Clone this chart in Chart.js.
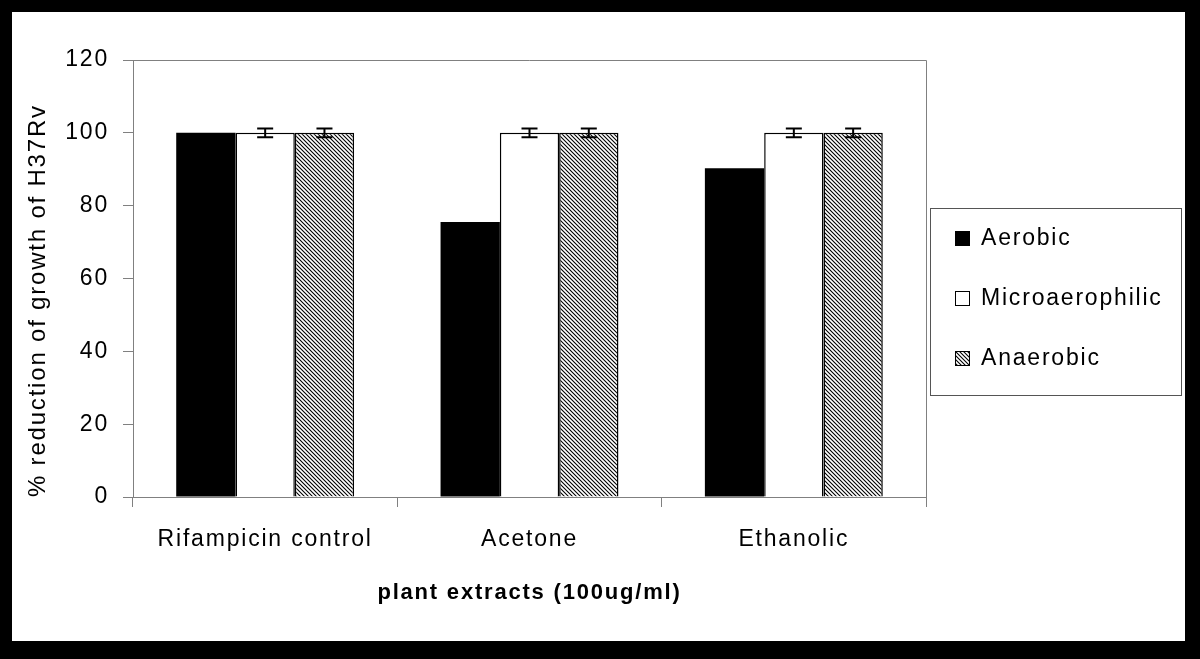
<!DOCTYPE html>
<html>
<head>
<meta charset="utf-8">
<script src="https://cdn.jsdelivr.net/npm/chart.js@4.4.0/dist/chart.umd.min.js"></script>
<style>
    html, body { margin: 0; background: #000; }
    #wrap { position: absolute; left: 12px; top: 12px; width: 1173px; height: 629px; background: #fff; }
</style>
</head>
<body>
<div id="wrap"><canvas id="chart"></canvas></div>
<script>
    // data
    const categories = ['Rifampicin control', 'Acetone', 'Ethanolic'];
    const seriesNames = ['Aerobic', 'Microaerophilic', 'Anaerobic'];
    const aerobic = [100, 75.5, 90.3];
    const microaerophilic = [100, 100, 100];
    const anaerobic = [100, 100, 100];
    const aerobicErr = [0, 0, 0];
    const microErr = [1.2, 1.2, 1.2];
    const anaerobicErr = [1.2, 1.2, 1.2];
    const yTicks = [0, 20, 40, 60, 80, 100, 120];

    const FONT = '"Liberation Sans", Arial, sans-serif';

    // diagonal hatch for the anaerobic bars
    function makeHatch() {
        const c = document.createElement('canvas');
        c.width = 4; c.height = 4;
        const g = c.getContext('2d');
        g.fillStyle = '#fff';
        g.fillRect(0, 0, 4, 4);
        g.strokeStyle = '#000';
        g.lineWidth = 1.1;
        g.beginPath();
        g.moveTo(-1, -1); g.lineTo(5, 5);
        g.moveTo(-1, 3); g.lineTo(1, 5);
        g.moveTo(3, -1); g.lineTo(5, 1);
        g.stroke();
        return g.createPattern(c, 'repeat');
    }
    const hatch = makeHatch();

    // slightly spaced lettering like the original
    const spacing = {
        id: 'spacing',
        beforeDraw(chart) { chart.ctx.letterSpacing = '1.8px'; }
    };

    // frame around the plot area
    const frame = {
        id: 'frame',
        afterDraw(chart) {
            const a = chart.chartArea, ctx = chart.ctx;
            ctx.save();
            ctx.strokeStyle = '#808080';
            ctx.lineWidth = 1;
            ctx.beginPath();
            ctx.moveTo(a.left, a.top + 0.5);
            ctx.lineTo(a.right + 0.5, a.top + 0.5);
            ctx.lineTo(a.right + 0.5, a.bottom);
            ctx.stroke();
            ctx.restore();
        }
    };

    // error bars
    const errorBars = {
        id: 'errorBars',
        afterDatasetsDraw(chart) {
            const ctx = chart.ctx, y = chart.scales.y;
            ctx.save();
            ctx.strokeStyle = '#000';
            ctx.lineWidth = 2;
            chart.data.datasets.forEach((ds, i) => {
                chart.getDatasetMeta(i).data.forEach((bar, j) => {
                    const e = ds.errors[j];
                    if (!e) return;
                    const t = y.getPixelForValue(ds.data[j] + e);
                    const b = y.getPixelForValue(ds.data[j] - e);
                    ctx.beginPath();
                    ctx.moveTo(bar.x, t); ctx.lineTo(bar.x, b);
                    ctx.moveTo(bar.x - 8, t); ctx.lineTo(bar.x + 8, t);
                    ctx.moveTo(bar.x - 8, b); ctx.lineTo(bar.x + 8, b);
                    ctx.stroke();
                });
            });
            ctx.restore();
        }
    };

    // boxed legend on the right
    const boxLegend = {
        id: 'boxLegend',
        afterDraw(chart) {
            const ctx = chart.ctx, a = chart.chartArea;
            const x = a.right + 4, top = 196, w = 251, h = 187;
            ctx.save();
            ctx.strokeStyle = '#555';
            ctx.lineWidth = 1;
            ctx.strokeRect(x + 0.5, top + 0.5, w, h);
            ctx.font = '23px ' + FONT;
            ctx.textBaseline = 'middle';
            chart.data.datasets.forEach((ds, i) => {
                const cy = top + 30 + i * 60;
                ctx.fillStyle = ds.backgroundColor;
                ctx.fillRect(x + 25, cy - 7, 15, 15);
                ctx.strokeStyle = '#000';
                ctx.strokeRect(x + 25.5, cy - 6.5, 14, 14);
                ctx.fillStyle = '#000';
                ctx.fillText(ds.label, x + 51, cy + 1);
            });
            ctx.restore();
        }
    };

    const ctx = document.getElementById('chart').getContext('2d');
    new Chart(ctx, {
        type: 'bar',
        data: {
            labels: categories,
            datasets: [{
                label: seriesNames[0],
                data: aerobic,
                errors: aerobicErr,
                backgroundColor: '#000',
                borderColor: '#000',
                borderWidth: 0
            }, {
                label: seriesNames[1],
                data: microaerophilic,
                errors: microErr,
                backgroundColor: '#fff',
                borderColor: '#000',
                borderWidth: 1.5
            }, {
                label: seriesNames[2],
                data: anaerobic,
                errors: anaerobicErr,
                backgroundColor: hatch,
                borderColor: '#000',
                borderWidth: 1.5
            }]
        },
        options: {
            responsive: true,
            maintainAspectRatio: false,
            animation: false,
            categoryPercentage: 0.673,
            barPercentage: 1,
            layout: { padding: { left: 0, top: 48, right: 259, bottom: 0 } },
            plugins: {
                legend: { display: false },
                tooltip: { enabled: false }
            },
            scales: {
                x: {
                    grid: { drawOnChartArea: false, tickLength: 10, color: '#808080' },
                    border: { color: '#808080' },
                    ticks: { color: '#000', font: { family: FONT, size: 23 }, padding: 19, maxRotation: 0 },
                    title: {
                        display: true,
                        text: 'plant extracts (100ug/ml)',
                        color: '#000',
                        font: { family: FONT, size: 22, weight: 'bold' },
                        padding: { top: 0, bottom: 35 }
                    },
                    afterFit(s) { s.height = 144; }
                },
                y: {
                    min: yTicks[0],
                    max: yTicks[yTicks.length - 1],
                    grid: { drawOnChartArea: false, tickLength: 10, color: '#808080' },
                    border: { color: '#808080' },
                    ticks: { stepSize: yTicks[1] - yTicks[0], color: '#000', font: { family: FONT, size: 23 }, padding: 14 },
                    title: {
                        display: true,
                        text: '% reduction of growth of H37Rv',
                        align: 'start',
                        color: '#000',
                        font: { family: FONT, size: 24 },
                        padding: { top: 12, bottom: 0 }
                    },
                    afterFit(s) { s.width = 121; }
                }
            }
        },
        plugins: [spacing, frame, errorBars, boxLegend]
    });
</script>
</body>
</html>
